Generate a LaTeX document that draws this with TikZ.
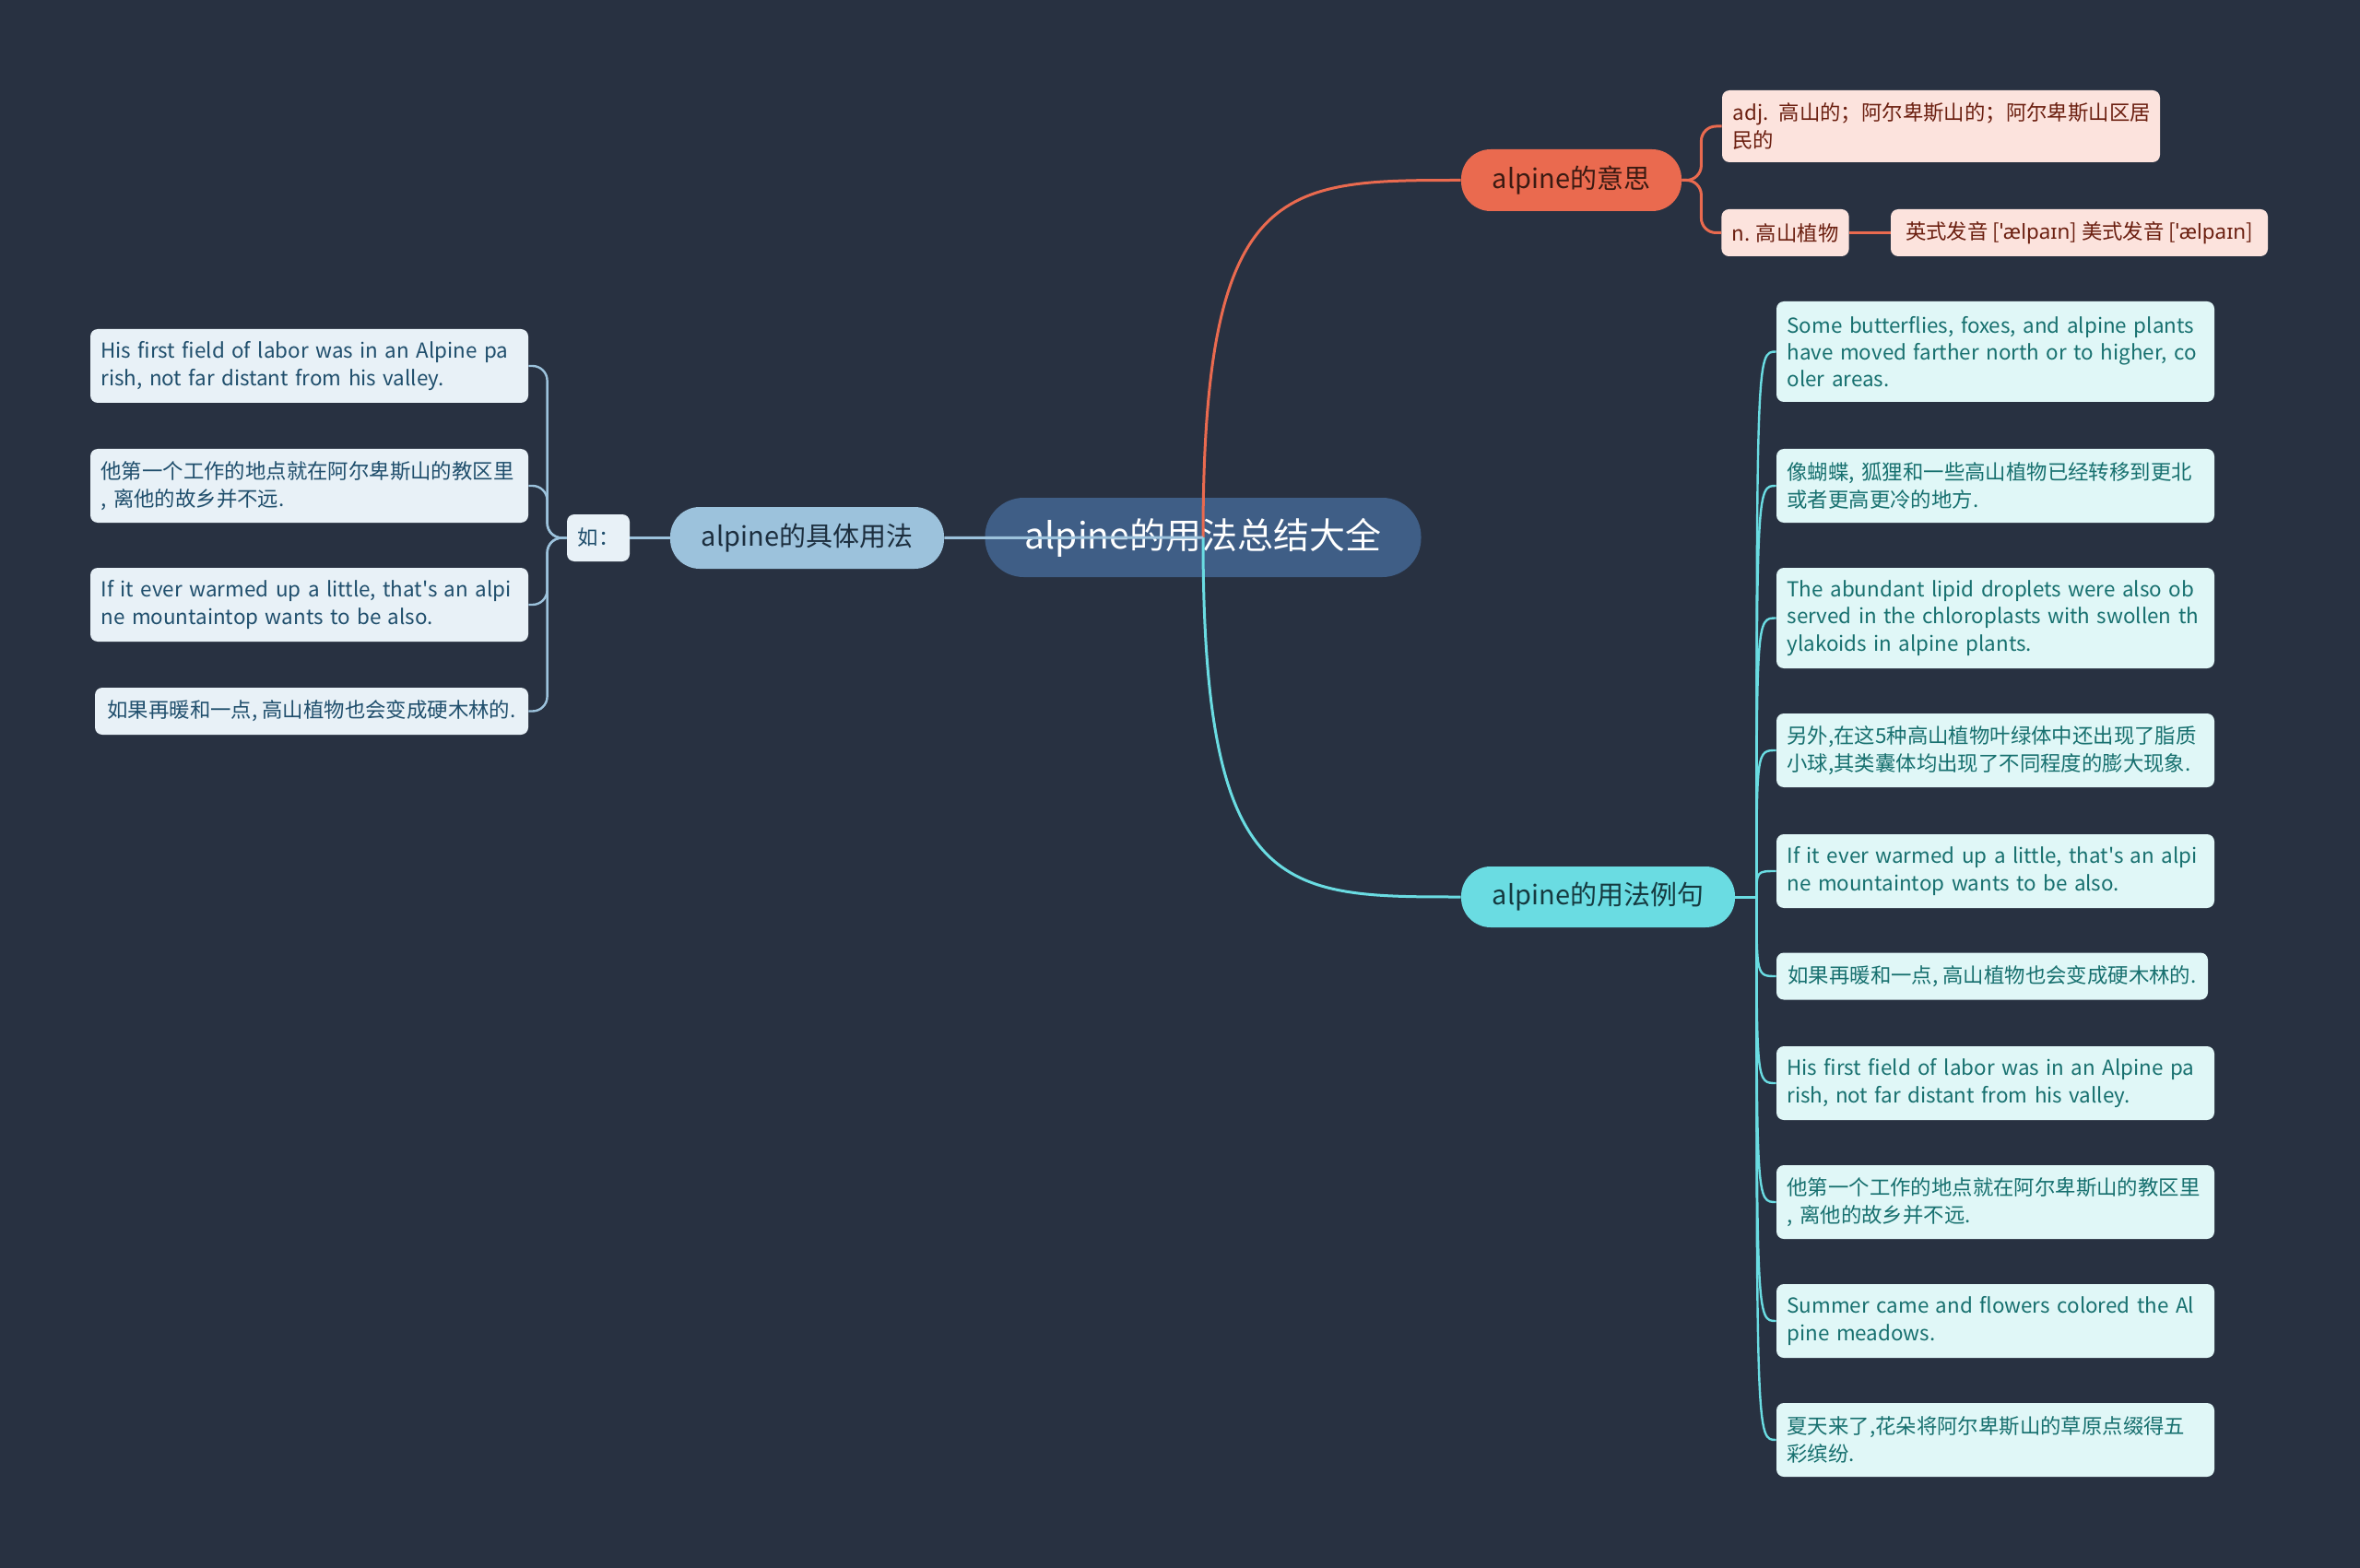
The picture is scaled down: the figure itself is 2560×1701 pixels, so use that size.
\documentclass[tikz,border=0pt]{standalone}
\usepackage{fontspec}
\setmainfont{Noto Sans CJK SC}[Ligatures=TeXOff]
\newfontfamily\ipafont{Noto Sans}[Ligatures=TeXOff]
\definecolor{bg}{HTML}{283141}
\definecolor{rootc}{HTML}{3F5E86}
\definecolor{orc}{HTML}{EA6A4F}
\definecolor{orl}{HTML}{FCE3DD}
\definecolor{ort}{HTML}{6B1F10}
\definecolor{ordk}{HTML}{3A1A12}
\definecolor{cyc}{HTML}{6ADCE2}
\definecolor{cyl}{HTML}{E0F7F7}
\definecolor{cyt}{HTML}{17706F}
\definecolor{cydk}{HTML}{153A40}
\definecolor{lbc}{HTML}{9CC2DC}
\definecolor{lbl}{HTML}{E8F1F7}
\definecolor{lbt}{HTML}{1F4E6C}
\definecolor{lbdk}{HTML}{1C2E3E}
\newcommand\leaffont{\fontsize{11.2pt}{14.7pt}\selectfont}
\newcommand\ipa[1]{{\ipafont #1}}
\newcommand\ml[1]{\mbox{#1}}
\begin{document}
\begin{tikzpicture}[x=0.5pt,y=-0.5pt,
  rootnode/.style={fill=rootc,text=white,rounded corners=21pt,minimum width=236.5pt,minimum height=43pt,inner sep=0pt,font=\fontsize{19.5pt}{23pt}\selectfont},
  branch/.style={rounded corners=16pt,minimum height=33.5pt,inner sep=0pt,font=\fontsize{14.5pt}{17pt}\selectfont},
  lf/.style={rounded corners=4pt,inner xsep=5.5pt,inner ysep=2pt,font=\leaffont},
  lfw/.style={lf,text width=226pt,align=left},
  lfl/.style={fill=lbl,text=lbt},
  lfr/.style={fill=cyl,text=cyt},
  lfo/.style={fill=orl,text=ort},
  h3/.style={minimum height=54.5pt},
  h2/.style={minimum height=40pt},
  h1/.style={minimum height=25.5pt},
  oline/.style={draw=orc,line width=1.5pt},
  cline/.style={draw=cyc,line width=1.5pt},
  bline/.style={draw=lbc,line width=1.5pt},
  cleaf/.style={draw=cyc,line width=1.2pt},
]
\fill[bg] (0,0) rectangle (2560,1701);
\useasboundingbox (0,0) rectangle (2560,1701);

% central and branch nodes
\node[rootnode] (root) at (1305,583) {alpine的用法总结大全};
\node[branch,fill=orc,text=ordk,minimum width=119.5pt] (yisi) at (1704.5,195.5) {alpine的意思};
\node[branch,fill=cyc,text=cydk,minimum width=148.5pt,minimum height=33pt] (lijv) at (1733.5,973) {alpine的用法例句};
\node[branch,fill=lbc,text=lbdk,minimum width=148.5pt] (juti) at (875.5,583.5) {alpine的具体用法};
\node[lf,lfl,minimum width=34pt,minimum height=25.5pt,inner xsep=0pt] (ru) at (649,583.5) {如：};

% left leaves
\node[lfw,lfl,h2,minimum width=237.5pt] (L1) at (335.5,397) {\ml{His first field of labor was in an Alpine pa}\\\ml{rish, not far distant from his valley.}};
\node[lfw,lfl,h2,minimum width=237.5pt] (L2) at (335.5,527) {\ml{他第一个工作的地点就在阿尔卑斯山的教区里}\\\ml{, 离他的故乡并不远.}};
\node[lfw,lfl,h2,minimum width=237.5pt] (L3) at (335.5,656) {\ml{If it ever warmed up a little, that's an alpi}\\\ml{ne mountaintop wants to be also.}};
\node[lf,lfl,h1,minimum width=235pt] (L4) at (338,771.5) {如果再暖和一点, 高山植物也会变成硬木林的.};

% orange leaves
\node[lfw,lfo,minimum height=39pt,minimum width=237.5pt] (O1) at (2105.5,137) {\ml{adj. 高山的；阿尔卑斯山的；阿尔卑斯山区居}\\\ml{民的}};
\node[lf,lfo,h1,minimum width=68.5pt] (O2) at (1936.5,252.5) {n. 高山植物};
\node[lf,lfo,h1,minimum width=204.5pt] (O3) at (2255.5,252.5) {英式发音 [\ipa{ˈælpaɪn}] 美式发音 [\ipa{ˈælpaɪn}]};

% right leaves
\node[lfw,lfr,h3,minimum width=237.5pt] (R1) at (2164.5,381.5) {\ml{Some butterflies, foxes, and alpine plants}\\\ml{have moved farther north or to higher, co}\\\ml{oler areas.}};
\node[lfw,lfr,h2,minimum width=237.5pt] (R2) at (2164.5,527) {\ml{像蝴蝶, 狐狸和一些高山植物已经转移到更北}\\\ml{或者更高更冷的地方.}};
\node[lfw,lfr,h3,minimum width=237.5pt] (R3) at (2164.5,670.5) {\ml{The abundant lipid droplets were also ob}\\\ml{served in the chloroplasts with swollen th}\\\ml{ylakoids in alpine plants.}};
\node[lfw,lfr,h2,minimum width=237.5pt] (R4) at (2164.5,814) {\ml{另外,在这5种高山植物叶绿体中还出现了脂质}\\\ml{小球,其类囊体均出现了不同程度的膨大现象.}};
\node[lfw,lfr,h2,minimum width=237.5pt] (R5) at (2164.5,945) {\ml{If it ever warmed up a little, that's an alpi}\\\ml{ne mountaintop wants to be also.}};
\node[lf,lfr,h1,minimum width=234pt] (R6) at (2161,1059) {如果再暖和一点, 高山植物也会变成硬木林的.};
\node[lfw,lfr,h2,minimum width=237.5pt] (R7) at (2164.5,1175) {\ml{His first field of labor was in an Alpine pa}\\\ml{rish, not far distant from his valley.}};
\node[lfw,lfr,h2,minimum width=237.5pt] (R8) at (2164.5,1304) {\ml{他第一个工作的地点就在阿尔卑斯山的教区里}\\\ml{, 离他的故乡并不远.}};
\node[lfw,lfr,h2,minimum width=237.5pt] (R9) at (2164.5,1433) {\ml{Summer came and flowers colored the Al}\\\ml{pine meadows.}};
\node[lfw,lfr,h2,minimum width=237.5pt] (R10) at (2164.5,1562) {\ml{夏天来了,花朵将阿尔卑斯山的草原点缀得五}\\\ml{彩缤纷.}};

% connectors from root
\draw[oline] (root.center) .. controls (root.center |- yisi.west) and (1390,195.5) .. (yisi.west);
\draw[cline] (root.center) .. controls (root.center |- lijv.west) and (1390,973) .. (lijv.west);
\draw[bline] (root.center) -- (juti.east);
\draw[bline] (juti.west) -- (ru.east);

% left bracket
\foreach \n in {L1,L2,L3,L4}
  \draw[draw=lbc,line width=1.2pt,rounded corners=8pt] (ru.west) -- ++(-21,0) |- (\n.east);

% orange bracket
\foreach \n in {O1,O2}
  \draw[draw=orc,line width=1.5pt,rounded corners=8pt] (yisi.east) -- ++(21,0) |- (\n.west);
\draw[draw=orc,line width=1.5pt] (O2.east) -- (O3.west);

% cyan fan
\path (lijv.east) ++(23,0) coordinate (cj);
\draw[cline] (lijv.east) -- (cj);
\foreach \n in {R1,R2,R3,R4,R5,R6,R7,R8,R9,R10}
  \draw[cleaf] (cj) .. controls (cj |- \n.west) .. (\n.west);
\end{tikzpicture}
\end{document}
